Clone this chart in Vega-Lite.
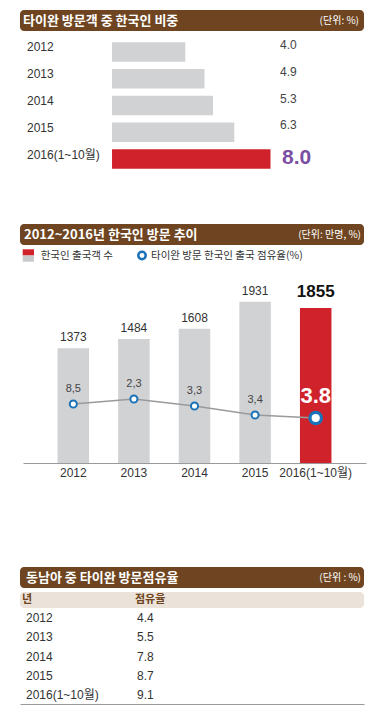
{
  "$schema": "https://vega.github.io/schema/vega-lite/v6.json",
  "padding": {"left": 20, "top": 10, "right": 18, "bottom": 12},
  "spacing": 4,
  "bounds": "flush",
  "config": {"view": {"stroke": null}},
  "datasets": {
    "share": [
      {"year": "2012", "share": 4.0},
      {"year": "2013", "share": 4.9},
      {"year": "2014", "share": 5.3},
      {"year": "2015", "share": 6.3},
      {"year": "2016(1~10월)", "share": 8.0}
    ],
    "trend": [
      {"year": "2012", "visitors": 1373, "rate_label": "8,5", "line_level": 707},
      {"year": "2013", "visitors": 1484, "rate_label": "2,3", "line_level": 766},
      {"year": "2014", "visitors": 1608, "rate_label": "3,3", "line_level": 683},
      {"year": "2015", "visitors": 1931, "rate_label": "3,4", "line_level": 575},
      {"year": "2016(1~10월)", "visitors": 1855, "rate_label": "3.8", "line_level": 539}
    ],
    "sea": [
      {"year": "2012", "share": 4.4},
      {"year": "2013", "share": 5.5},
      {"year": "2014", "share": 7.8},
      {"year": "2015", "share": 8.7},
      {"year": "2016(1~10월)", "share": 9.1}
    ],
    "titles": [
      {"id": 1, "title": "타이완 방문객 중 한국인 비중", "unit": "(단위: %)"},
      {"id": 2, "title": "2012~2016년 한국인 방문 추이", "unit": "(단위: 만명, %)"},
      {"id": 3, "title": "동남아 중 타이완 방문점유율", "unit": "(단위 : %)"}
    ],
    "legend": [
      {"bars": "한국인 출국객 수", "line": "타이완 방문 한국인 출국 점유율(%)"}
    ],
    "header": [
      {"c1": "년", "c2": "점유율"}
    ]
  },
  "vconcat": [
    {
      "width": 344, "height": 21,
      "view": {"fill": "#6e4520", "stroke": null, "cornerRadius": 4},
      "data": {"name": "titles"},
      "transform": [{"filter": "datum.id === 1"}],
      "layer": [
        {"mark": {"type": "text", "align": "left", "baseline": "middle", "dx": 3, "font": "Noto Sans CJK KR", "fontWeight": "bold", "fontSize": 13, "color": "#ffffff"},
         "encoding": {"x": {"datum": 0, "type": "quantitative", "scale": {"domain": [0, 1]}, "axis": null}, "text": {"field": "title"}}},
        {"mark": {"type": "text", "align": "right", "baseline": "middle", "dx": -5, "font": "Noto Sans CJK KR", "fontSize": 10, "color": "#ffffff"},
         "encoding": {"x": {"datum": 1, "type": "quantitative"}, "text": {"field": "unit"}}}
      ]
    },
    {
      "width": 344, "height": 185,
      "data": {"name": "share"},
      "encoding": {
        "y": {"field": "year", "type": "nominal", "sort": null, "scale": {"range": [3.6, 137.4], "paddingInner": 0.27, "paddingOuter": 0.135}, "axis": null}
      },
      "layer": [
        {"mark": {"type": "bar"},
         "encoding": {
           "x": {"field": "share", "type": "quantitative", "scale": {"domain": [-3.761, 12.39], "nice": false, "zero": false}, "axis": null},
           "x2": {"datum": 0.56},
           "color": {"condition": {"test": "datum.year === '2016(1~10월)'", "value": "#d0222b"}, "value": "#d1d2d4"}
         }},
        {"mark": {"type": "text", "align": "left", "baseline": "middle", "dy": -4.5, "fontSize": 12, "font": "Liberation Sans, Noto Sans CJK KR, sans-serif", "color": "#333333"},
         "encoding": {"x": {"datum": -3.432, "type": "quantitative"}, "text": {"field": "year"}}},
        {"transform": [{"filter": "datum.year !== '2016(1~10월)'"}],
         "mark": {"type": "text", "align": "left", "baseline": "middle", "dy": -7, "fontSize": 12, "font": "Liberation Sans, sans-serif", "color": "#444444"},
         "encoding": {"x": {"datum": 8.446, "type": "quantitative"}, "text": {"field": "share", "format": ".1f"}}},
        {"transform": [{"filter": "datum.year === '2016(1~10월)'"}],
         "mark": {"type": "text", "align": "left", "baseline": "middle", "dx": 2, "dy": -1, "fontSize": 21, "fontWeight": "bold", "font": "Liberation Sans, sans-serif", "color": "#7a4fa3"},
         "encoding": {"x": {"datum": 8.446, "type": "quantitative"}, "text": {"field": "share", "format": ".1f"}}}
      ]
    },
    {
      "width": 344, "height": 21,
      "view": {"fill": "#6e4520", "stroke": null, "cornerRadius": 4},
      "data": {"name": "titles"},
      "transform": [{"filter": "datum.id === 2"}],
      "layer": [
        {"mark": {"type": "text", "align": "left", "baseline": "middle", "dx": 4, "font": "Noto Sans CJK KR", "fontWeight": "bold", "fontSize": 13, "color": "#ffffff"},
         "encoding": {"x": {"datum": 0, "type": "quantitative", "scale": {"domain": [0, 1]}, "axis": null}, "text": {"field": "title"}}},
        {"mark": {"type": "text", "align": "right", "baseline": "middle", "dx": -3, "font": "Noto Sans CJK KR", "fontSize": 10, "color": "#ffffff"},
         "encoding": {"x": {"datum": 1, "type": "quantitative"}, "text": {"field": "unit"}}}
      ]
    },
    {
      "width": 344, "height": 314,
      "resolve": {"scale": {"x": "independent", "y": "independent"}},
      "layer": [
        {
          "data": {"name": "trend"},
          "encoding": {
            "x": {"field": "year", "type": "nominal", "sort": null,
                  "scale": {"range": [3, 346], "paddingInner": 0.48, "paddingOuter": 0.57},
                  "axis": {"title": null, "orient": "bottom", "offset": -100, "ticks": false, "grid": false, "domainColor": "#9a9a9a", "domainWidth": 1.2, "labelPadding": 4, "labelAngle": 0, "labelFont": "Liberation Sans, Noto Sans CJK KR, sans-serif", "labelFontSize": 12, "labelColor": "#333333"}}
          },
          "layer": [
            {"mark": {"type": "bar"},
             "encoding": {
               "y": {"field": "visitors", "type": "quantitative", "scale": {"domain": [-1197.6, 2562.9], "nice": false, "zero": false}, "axis": null},
               "y2": {"datum": 0},
               "color": {"condition": {"test": "datum.year === '2016(1~10월)'", "value": "#d0222b"}, "value": "#d1d2d4"}
             }},
            {"transform": [{"filter": "datum.year !== '2016(1~10월)'"}],
             "mark": {"type": "text", "baseline": "bottom", "dy": -4, "fontSize": 12, "font": "Liberation Sans, sans-serif", "color": "#333333"},
             "encoding": {"y": {"field": "visitors", "type": "quantitative"}, "text": {"field": "visitors", "format": "d"}}},
            {"transform": [{"filter": "datum.year === '2016(1~10월)'"}],
             "mark": {"type": "text", "baseline": "bottom", "dy": -7, "fontSize": 17, "fontWeight": "bold", "font": "Liberation Sans, sans-serif", "color": "#111111"},
             "encoding": {"y": {"field": "visitors", "type": "quantitative"}, "text": {"field": "visitors", "format": "d"}}},
            {"mark": {"type": "line", "color": "#9a9a9a", "strokeWidth": 1.5},
             "encoding": {"y": {"field": "line_level", "type": "quantitative"}}},
            {"transform": [{"filter": "datum.year !== '2016(1~10월)'"}],
             "mark": {"type": "point", "shape": "circle", "filled": true, "fill": "#ffffff", "stroke": "#1a72b8", "strokeWidth": 2, "size": 50, "opacity": 1},
             "encoding": {"y": {"field": "line_level", "type": "quantitative"}}},
            {"transform": [{"filter": "datum.year === '2016(1~10월)'"}],
             "mark": {"type": "point", "shape": "circle", "filled": true, "fill": "#ffffff", "stroke": "#1a72b8", "strokeWidth": 3.2, "size": 130, "opacity": 1},
             "encoding": {"y": {"field": "line_level", "type": "quantitative"}}},
            {"transform": [{"filter": "datum.year !== '2016(1~10월)'"}],
             "mark": {"type": "text", "baseline": "middle", "dy": -15, "fontSize": 11, "font": "Liberation Sans, sans-serif", "color": "#444444"},
             "encoding": {"y": {"field": "line_level", "type": "quantitative"}, "text": {"field": "rate_label"}}},
            {"transform": [{"filter": "datum.year === '2016(1~10월)'"}],
             "mark": {"type": "text", "baseline": "middle", "dy": -22, "fontSize": 22, "fontWeight": "bold", "font": "Liberation Sans, sans-serif", "color": "#ffffff"},
             "encoding": {"y": {"field": "line_level", "type": "quantitative"}, "text": {"field": "rate_label"}}}
          ]
        },
        {
          "data": {"name": "legend"},
          "encoding": {
            "x": {"datum": 0, "type": "quantitative", "scale": {"domain": [0, 344], "nice": false, "zero": false}, "axis": null},
            "y": {"datum": 0, "type": "quantitative", "scale": {"domain": [0, 314], "reverse": true, "nice": false, "zero": false}, "axis": null}
          },
          "layer": [
            {"mark": {"type": "rect", "color": "#d0222b"},
             "encoding": {"x": {"datum": 2.7, "type": "quantitative"}, "x2": {"datum": 14}, "y": {"datum": 0.3, "type": "quantitative"}, "y2": {"datum": 6.5}}},
            {"mark": {"type": "rect", "color": "#c9cacc"},
             "encoding": {"x": {"datum": 2.7, "type": "quantitative"}, "x2": {"datum": 14}, "y": {"datum": 6.5, "type": "quantitative"}, "y2": {"datum": 12.7}}},
            {"mark": {"type": "text", "align": "left", "baseline": "middle", "fontSize": 10.5, "font": "Noto Sans CJK KR", "color": "#333333"},
             "encoding": {"x": {"datum": 20.7, "type": "quantitative"}, "y": {"datum": 6.5, "type": "quantitative"}, "text": {"field": "bars"}}},
            {"mark": {"type": "point", "shape": "circle", "filled": true, "fill": "#ffffff", "stroke": "#1a72b8", "strokeWidth": 2.5, "size": 55, "opacity": 1},
             "encoding": {"x": {"datum": 122, "type": "quantitative"}, "y": {"datum": 6.5, "type": "quantitative"}}},
            {"mark": {"type": "text", "align": "left", "baseline": "middle", "fontSize": 10.5, "font": "Noto Sans CJK KR", "color": "#333333"},
             "encoding": {"x": {"datum": 131, "type": "quantitative"}, "y": {"datum": 6.5, "type": "quantitative"}, "text": {"field": "line"}}}
          ]
        }
      ]
    },
    {
      "width": 344, "height": 21,
      "view": {"fill": "#6e4520", "stroke": null, "cornerRadius": 4},
      "data": {"name": "titles"},
      "transform": [{"filter": "datum.id === 3"}],
      "layer": [
        {"mark": {"type": "text", "align": "left", "baseline": "middle", "dx": 6, "font": "Noto Sans CJK KR", "fontWeight": "bold", "fontSize": 13, "color": "#ffffff"},
         "encoding": {"x": {"datum": 0, "type": "quantitative", "scale": {"domain": [0, 1]}, "axis": null}, "text": {"field": "title"}}},
        {"mark": {"type": "text", "align": "right", "baseline": "middle", "dx": -3, "font": "Noto Sans CJK KR", "fontSize": 10, "color": "#ffffff"},
         "encoding": {"x": {"datum": 1, "type": "quantitative"}, "text": {"field": "unit"}}}
      ]
    },
    {
      "width": 344, "height": 16,
      "view": {"fill": "#ebe3da", "stroke": null, "cornerRadius": 4},
      "data": {"name": "header"},
      "layer": [
        {"mark": {"type": "text", "align": "left", "baseline": "middle", "font": "Noto Sans CJK KR", "fontWeight": "bold", "fontSize": 11, "color": "#6e4520"},
         "encoding": {"x": {"datum": 2, "type": "quantitative", "scale": {"domain": [0, 344], "nice": false}, "axis": null}, "text": {"field": "c1"}}},
        {"mark": {"type": "text", "align": "left", "baseline": "middle", "font": "Noto Sans CJK KR", "fontWeight": "bold", "fontSize": 11, "color": "#6e4520"},
         "encoding": {"x": {"datum": 115, "type": "quantitative"}, "text": {"field": "c2"}}}
      ]
    },
    {
      "width": 344, "height": 92,
      "data": {"name": "sea"},
      "encoding": {
        "y": {"field": "year", "type": "nominal", "sort": null, "scale": {"type": "point", "range": [6, 83], "padding": 0}, "axis": null}
      },
      "layer": [
        {"mark": {"type": "text", "align": "left", "baseline": "middle", "fontSize": 12, "font": "Liberation Sans, Noto Sans CJK KR, sans-serif", "color": "#333333"},
         "encoding": {"x": {"datum": 6, "type": "quantitative", "scale": {"domain": [0, 344], "nice": false, "zero": false},
                            "axis": {"title": null, "labels": false, "ticks": false, "grid": false, "domainColor": "#9a9a9a", "domainWidth": 1.2}},
                      "text": {"field": "year"}}},
        {"mark": {"type": "text", "align": "left", "baseline": "middle", "fontSize": 12, "font": "Liberation Sans, sans-serif", "color": "#333333"},
         "encoding": {"x": {"datum": 117, "type": "quantitative"}, "text": {"field": "share", "format": ".1f"}}}
      ]
    }
  ]
}
